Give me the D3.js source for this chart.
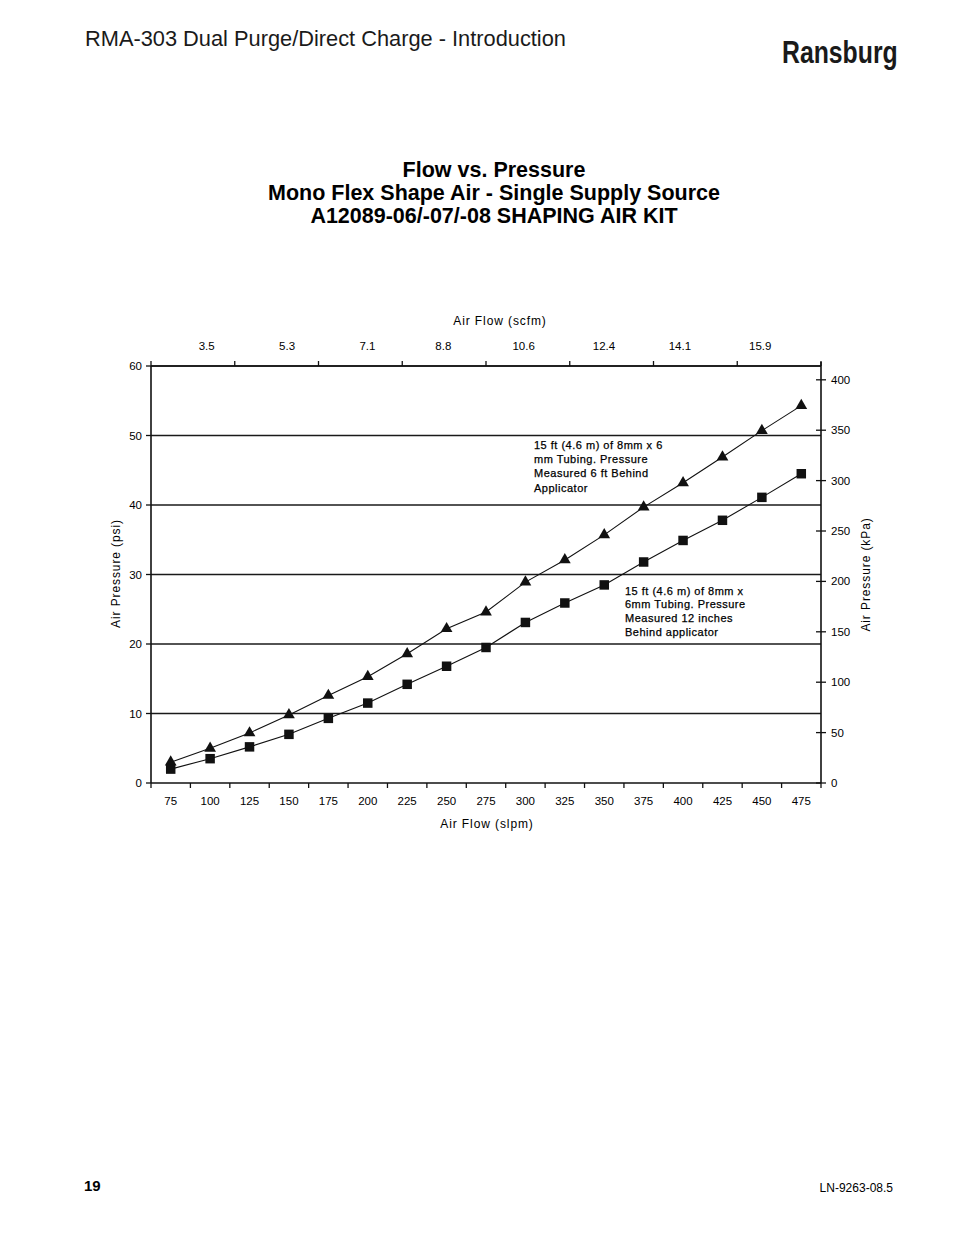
<!DOCTYPE html>
<html><head><meta charset="utf-8">
<script src="https://cdn.jsdelivr.net/npm/d3@7"></script>
<style>
html,body{margin:0;padding:0;background:#fff;}
svg{display:block;}
text{font-family:"Liberation Sans",Arial,sans-serif;fill:#000;}
</style></head>
<body>
<svg id="c" width="954" height="1235"></svg>
<script>
// ---- data ----
const categories = [75,100,125,150,175,200,225,250,275,300,325,350,375,400,425,450,475];
const seriesTriangle = [3.0,5.0,7.2,9.8,12.6,15.3,18.6,22.2,24.6,28.9,32.1,35.7,39.7,43.2,46.9,50.7,54.3];
const seriesSquare = [2.0,3.5,5.2,7.0,9.3,11.5,14.2,16.8,19.5,23.1,25.9,28.5,31.8,34.9,37.8,41.1,44.5];
const psiTicks = [0,10,20,30,40,50,60];
const kpaTicks = [0,50,100,150,200,250,300,350,400];
const scfmLabels = ["3.5","5.3","7.1","8.8","10.6","12.4","14.1","15.9"];
const noteTriangle = ["15 ft (4.6  m) of 8mm x 6","mm Tubing. Pressure","Measured 6 ft Behind","Applicator"];
const noteSquare = ["15 ft (4.6  m) of 8mm x","6mm Tubing. Pressure","Measured 12 inches","Behind applicator"];

const svg = d3.select("#c");
const L = 151, R = 821, T = 366, B = 783;

// header
svg.append("text").attr("x",85).attr("y",46).attr("font-size",21.8).style("fill","#1a1a1a")
  .text("RMA-303 Dual Purge/Direct Charge - Introduction");
svg.append("text").attr("transform","translate(782,63) scale(0.8,1)").attr("font-size",31).attr("font-weight","bold")
  .style("fill","#1a1a1a").text("Ransburg");
// titles
const titles = ["Flow vs. Pressure","Mono Flex Shape Air - Single Supply Source","A12089-06/-07/-08 SHAPING AIR KIT"];
svg.selectAll("text.title").data(titles).enter().append("text").attr("class","title")
  .attr("x",494).attr("y",(d,i)=>177+i*23).attr("text-anchor","middle")
  .attr("font-size",21.5).attr("font-weight","bold").text(d=>d);
// footer
svg.append("text").attr("x",84).attr("y",1191).attr("font-size",15).attr("font-weight","bold").text("19");
svg.append("text").attr("x",893).attr("y",1192).attr("font-size",12).attr("text-anchor","end").text("LN-9263-08.5");

// scales
const x = d3.scaleBand().domain(categories).range([L,R]).padding(0);
const cx = d => x(d) + x.bandwidth()/2;
const y = d3.scaleLinear().domain([0,60]).range([B,T]);
const yk = d3.scaleLinear().domain([0,60*6.895]).range([B,T]);
const xTop = d3.scaleLinear().domain([0,scfmLabels.length]).range([L,R]);
const slpmToX = d3.scaleLinear().domain([categories[0],categories[categories.length-1]]).range([cx(categories[0]),cx(categories[categories.length-1])]);

const g = svg.append("g").attr("font-size",11.5);

// gridlines
g.selectAll("line.grid").data(psiTicks.filter(v=>v>0)).enter().append("line")
  .attr("x1",L).attr("x2",R).attr("y1",d=>y(d)).attr("y2",d=>y(d))
  .attr("stroke","#1a1a1a").attr("stroke-width",1.4);

// left axis
g.append("line").attr("x1",L).attr("x2",L).attr("y1",T).attr("y2",B).attr("stroke","#111").attr("stroke-width",1.6);
g.selectAll("line.lt").data(psiTicks).enter().append("line")
  .attr("x1",L-5).attr("x2",L).attr("y1",d=>y(d)).attr("y2",d=>y(d)).attr("stroke","#111").attr("stroke-width",1.3);
g.selectAll("text.lt").data(psiTicks).enter().append("text")
  .attr("x",L-9).attr("y",d=>y(d)+4).attr("text-anchor","end").text(d=>d);
g.append("text").attr("transform",`translate(120,${(T+B)/2 - 1}) rotate(-90)`).attr("text-anchor","middle")
  .attr("font-size",12).style("letter-spacing","0.9px").text("Air Pressure (psi)");

// bottom axis
g.append("line").attr("x1",L).attr("x2",R).attr("y1",B).attr("y2",B).attr("stroke","#111").attr("stroke-width",1.6);
const bTicks = categories.map(c=>x(c)).concat([R]);
g.selectAll("line.bt").data(bTicks).enter().append("line")
  .attr("x1",d=>d).attr("x2",d=>d).attr("y1",B).attr("y2",B+5).attr("stroke","#111").attr("stroke-width",1.3);
g.selectAll("text.bt").data(categories).enter().append("text")
  .attr("x",d=>cx(d)).attr("y",B+22).attr("text-anchor","middle").text(d=>d);
g.append("text").attr("x",487).attr("y",828).attr("text-anchor","middle")
  .attr("font-size",12).style("letter-spacing","0.9px").text("Air Flow (slpm)");

// top axis
g.append("line").attr("x1",L).attr("x2",R).attr("y1",T).attr("y2",T).attr("stroke","#111").attr("stroke-width",1.6);
g.selectAll("line.tt").data(d3.range(scfmLabels.length+1)).enter().append("line")
  .attr("x1",d=>xTop(d)).attr("x2",d=>xTop(d)).attr("y1",T-5).attr("y2",T).attr("stroke","#111").attr("stroke-width",1.3);
g.selectAll("text.tt").data(scfmLabels).enter().append("text")
  .attr("x",d=>slpmToX(+d*28.3168)-2).attr("y",T-16).attr("text-anchor","middle").text(d=>d);
g.append("text").attr("x",500).attr("y",325).attr("text-anchor","middle")
  .attr("font-size",12).style("letter-spacing","0.9px").text("Air Flow (scfm)");

// right axis
g.append("line").attr("x1",R).attr("x2",R).attr("y1",T-4).attr("y2",B).attr("stroke","#111").attr("stroke-width",1.6);
g.selectAll("line.rt").data(kpaTicks).enter().append("line")
  .attr("x1",R-5).attr("x2",R+5).attr("y1",d=>yk(d)).attr("y2",d=>yk(d)).attr("stroke","#111").attr("stroke-width",1.3);
g.selectAll("text.rt").data(kpaTicks).enter().append("text")
  .attr("x",R+10).attr("y",d=>yk(d)+4).text(d=>d);
g.append("text").attr("transform",`translate(870,${(T+B)/2}) rotate(-90)`).attr("text-anchor","middle")
  .attr("font-size",12).style("letter-spacing","0.9px").text("Air Pressure (kPa)");

// series lines
const line = d3.line().x((d,i)=>cx(categories[i])).y(d=>y(d));
[seriesTriangle, seriesSquare].forEach(s=>{
  g.append("path").attr("d",line(s)).attr("fill","none").attr("stroke","#111").attr("stroke-width",1.1);
});
g.selectAll("path.tri").data(seriesTriangle).enter().append("path")
  .attr("d",d3.symbol(d3.symbolTriangle,60)())
  .attr("transform",(d,i)=>`translate(${cx(categories[i])},${y(d)})`).attr("fill","#111");
g.selectAll("path.sq").data(seriesSquare).enter().append("path")
  .attr("d",d3.symbol(d3.symbolSquare,90)())
  .attr("transform",(d,i)=>`translate(${cx(categories[i])},${y(d)})`).attr("fill","#111");

// annotations
g.selectAll("text.n1").data(noteTriangle).enter().append("text")
  .attr("x",534).attr("y",(d,i)=>449+i*14.2).attr("font-size",11).style("letter-spacing","0.5px")
  .style("stroke","#000").style("stroke-width",0.25).text(d=>d);
g.selectAll("text.n2").data(noteSquare).enter().append("text")
  .attr("x",625).attr("y",(d,i)=>594.5+i*13.7).attr("font-size",11).style("letter-spacing","0.5px")
  .style("stroke","#000").style("stroke-width",0.25).text(d=>d);
</script>
</body></html>
